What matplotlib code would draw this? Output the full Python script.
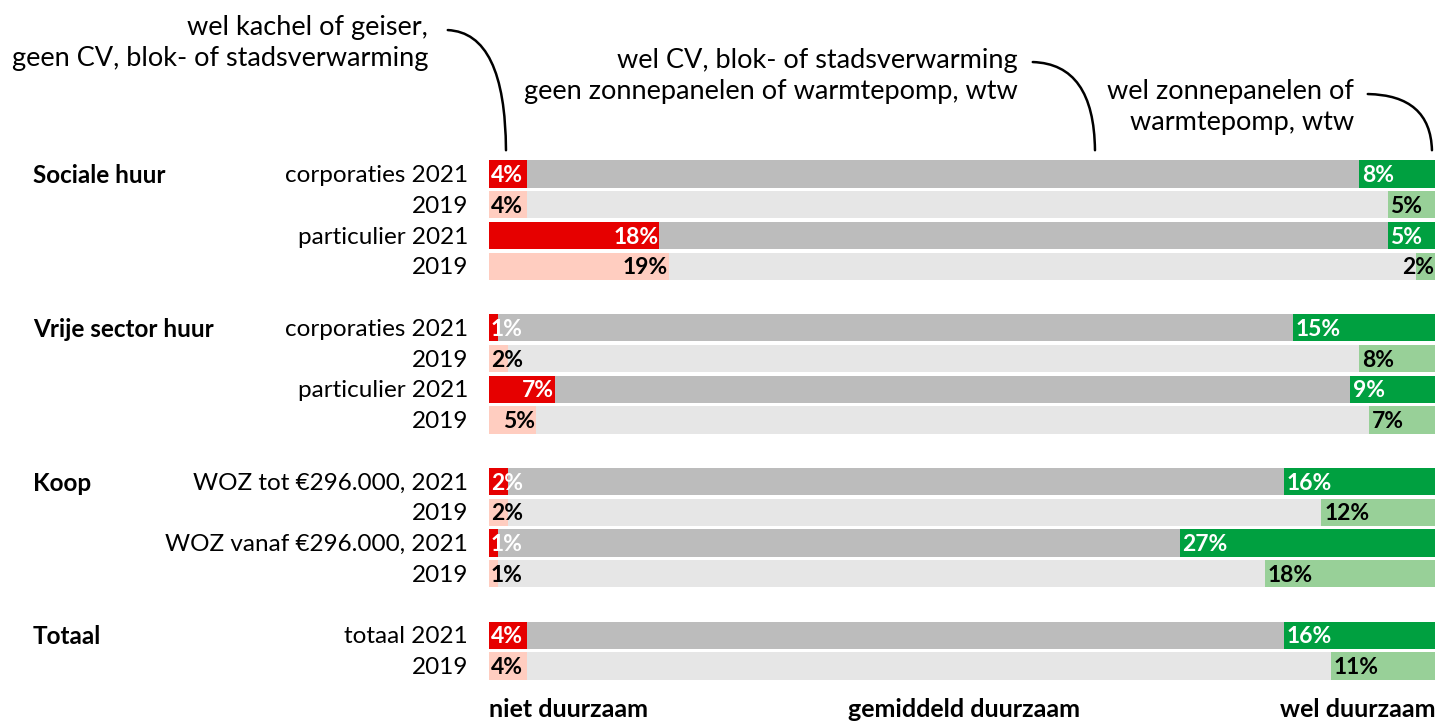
import numpy as np
import matplotlib
matplotlib.use("Agg")
import matplotlib.pyplot as plt

plt.rcParams['font.family'] = ['Lato', 'DejaVu Sans']

# data
groups = ["Sociale huur", "Vrije sector huur", "Koop", "Totaal"]
row_labels = [
    ["corporaties 2021", "2019", "particulier 2021", "2019"],
    ["corporaties 2021", "2019", "particulier 2021", "2019"],
    ["WOZ tot €296.000, 2021", "2019", "WOZ vanaf €296.000, 2021", "2019"],
    ["totaal 2021", "2019"],
]
niet = [[4, 4, 18, 19], [1, 2, 7, 5], [2, 2, 1, 1], [4, 4]]
wel = [[8, 5, 5, 2], [15, 8, 9, 7], [16, 12, 27, 18], [16, 11]]
is2021 = [[True, False, True, False], [True, False, True, False],
          [True, False, True, False], [True, False]]

RED, RED_L = "#e60000", "#ffcdc0"
GREY, GREY_L = "#bcbcbc", "#e6e6e6"
GREEN, GREEN_L = "#00a040", "#98d098"

W, H = 1437, 725
fig = plt.figure(figsize=(W / 100, H / 100), dpi=100)
# y range -0.5..16.5 maps to pixel 158.6..681.4 from top
ax = fig.add_axes([489 / W, 1 - 681.4 / H, (1435 - 489) / W, (681.4 - 158.6) / H])
ax.set_xlim(0, 100)
ax.set_ylim(16.5, -0.5)
ax.axis("off")

pos = 0
for g, grp in enumerate(groups):
    ax.text(-48.2, pos + 0.05, grp, ha="left", va="center", fontsize=17.5, fontweight="bold")
    for i, lab in enumerate(row_labels[g]):
        n, w = niet[g][i], wel[g][i]
        mid = 100 - n - w
        dark = is2021[g][i]
        cols = (RED, GREY, GREEN) if dark else (RED_L, GREY_L, GREEN_L)
        ax.barh(pos, n, left=0, height=0.88, color=cols[0])
        ax.barh(pos, mid, left=n, height=0.88, color=cols[1])
        ax.barh(pos, w, left=n + mid, height=0.88, color=cols[2])
        tc = "white" if dark else "black"
        if n < 4.5:
            ax.text(0.2, pos + 0.05, f"{n}%", ha="left", va="center", color=tc,
                    fontsize=16.5, fontweight="bold")
        else:
            ax.text(n - 0.1, pos + 0.05, f"{n}%", ha="right", va="center", color=tc,
                    fontsize=16.5, fontweight="bold")
        if w < 4.5:
            ax.text(99.9, pos + 0.05, f"{w}%", ha="right", va="center", color=tc,
                    fontsize=16.5, fontweight="bold")
        else:
            ax.text(100 - w + 0.3, pos + 0.05, f"{w}%", ha="left", va="center", color=tc,
                    fontsize=16.5, fontweight="bold")
        ax.text(-2.2, pos + 0.05, lab, ha="right", va="center", fontsize=17.5)
        pos += 1
    pos += 1

# bottom labels
fig.text(489 / W, 4 / H, "niet duurzaam", ha="left", va="bottom", fontsize=18, fontweight="bold")
fig.text(964 / W, 4 / H, "gemiddeld duurzaam", ha="center", va="bottom", fontsize=18, fontweight="bold")
fig.text(1435 / W, 4 / H, "wel duurzaam", ha="right", va="bottom", fontsize=18, fontweight="bold")

# annotations at top
notes = [
    ("wel kachel of geiser,\ngeen CV, blok- of stadsverwarming", 428, 43, 445, 30, 506),
    ("wel CV, blok- of stadsverwarming\ngeen zonnepanelen of warmtepomp, wtw", 1018, 76, 1030, 62, 1095),
    ("wel zonnepanelen of\nwarmtepomp, wtw", 1354, 107, 1365, 94, 1432),
]
for txt, tx, ty, sx, sy, ex in notes:
    fig.text(tx / W, 1 - ty / H, txt, ha="right", va="center", fontsize=19.5,
             multialignment="right", linespacing=1.3)
    fig.add_artist(matplotlib.patches.FancyArrowPatch(
        (sx, H - sy), (ex, H - 153), transform=None,
        arrowstyle="-", connectionstyle="angle3,angleA=0,angleB=90",
        color="black", lw=1.8))

fig.savefig("out.png", dpi=100)
